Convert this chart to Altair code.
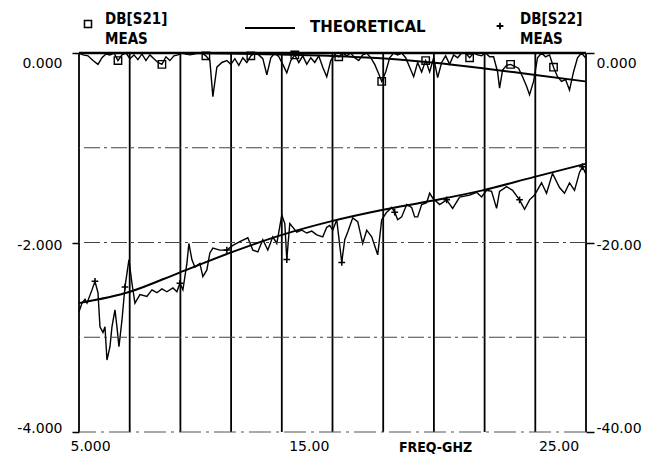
import altair as alt
import pandas as pd

# ---------------- data ----------------
s21_freq = [5.00,5.16,5.36,5.56,5.76,5.92,6.08,6.24,6.40,6.56,
            6.72,6.88,7.04,7.20,7.36,7.52,7.68,7.84,8.00,8.16,
            8.32,8.48,8.64,8.80,8.96,9.12,9.28,9.44,9.60,9.76,
            9.92,10.08,10.24,10.36,10.52,10.72,10.92,11.08,11.24,11.40,
            11.56,11.72,11.88,12.04,12.20,12.36,12.52,12.68,12.84,13.00,
            13.16,13.32,13.48,13.64,13.80,13.96,14.12,14.28,14.44,14.60,
            14.76,14.92,15.08,15.24,15.40,15.56,15.72,15.88,16.04,16.20,
            16.36,16.52,16.68,16.84,17.00,17.12,17.28,17.44,17.60,17.76,
            17.92,18.08,18.24,18.40,18.56,18.72,18.88,19.04,19.20,19.36,
            19.52,19.68,19.84,20.00,20.16,20.32,20.48,20.64,20.80,20.96,
            21.12,21.28,21.44,21.60,21.76,21.84,21.96,22.12,22.28,22.44,
            22.60,22.76,22.92,23.04,23.20,23.36,23.52,23.68,23.84,24.00,
            24.16,24.32,24.48,24.64,24.80,24.96,25.12,25.28]
s21_meas = [0.0,-0.02,-0.03,-0.08,-0.12,-0.05,-0.01,-0.02,0.0,-0.08,
            -0.02,0.0,-0.06,-0.02,-0.07,-0.01,-0.08,-0.02,-0.06,-0.10,
            -0.12,-0.04,-0.08,-0.03,-0.02,0.0,-0.01,-0.02,-0.01,0.0,
            0.0,-0.03,-0.08,-0.46,-0.15,-0.10,-0.08,-0.12,-0.06,-0.13,
            -0.05,-0.10,-0.03,0.0,-0.02,-0.06,-0.23,-0.05,0.0,-0.04,
            -0.12,-0.21,-0.08,-0.02,-0.10,-0.03,-0.12,-0.05,-0.10,-0.03,
            -0.15,-0.25,-0.08,-0.02,-0.04,0.0,-0.03,0.0,-0.05,-0.08,
            -0.02,0.0,-0.05,-0.12,-0.22,-0.30,-0.20,-0.05,0.0,-0.02,
            0.0,-0.05,-0.15,-0.25,-0.10,-0.20,-0.08,-0.20,-0.05,-0.26,
            -0.10,-0.03,-0.12,-0.02,-0.05,0.0,0.0,-0.05,0.0,-0.02,
            -0.03,0.0,-0.04,-0.04,-0.20,-0.37,-0.18,-0.13,-0.12,-0.14,
            -0.16,-0.25,-0.35,-0.44,-0.30,-0.05,0.0,-0.04,-0.02,-0.15,
            -0.25,-0.30,-0.28,-0.39,-0.20,-0.05,0.0,-0.05]

s21_theo_freq = [5.0, 9.0, 11.0, 13.0, 15.0, 17.08, 19.12, 21.16, 23.2, 25.28]
s21_theo = [0.0, 0.0, -0.005, -0.015, -0.03, -0.055, -0.10, -0.16, -0.23, -0.30]

s22_freq = [5.00,5.12,5.24,5.32,5.52,5.64,5.76,5.84,5.96,6.04,
            6.12,6.24,6.32,6.44,6.52,6.60,6.72,6.84,7.00,7.12,
            7.24,7.44,7.72,7.92,8.12,8.32,8.52,8.76,8.92,9.04,
            9.16,9.32,9.40,9.52,9.64,9.84,9.96,10.12,10.24,10.36,
            10.64,10.92,11.16,11.44,11.76,11.96,12.16,12.36,12.56,12.76,
            12.92,13.12,13.24,13.32,13.44,13.72,13.92,14.12,14.32,14.52,
            14.76,14.92,15.04,15.16,15.32,15.52,15.64,15.76,15.96,16.16,
            16.36,16.52,16.72,16.96,17.12,17.32,17.52,17.64,17.76,17.92,
            18.12,18.32,18.44,18.56,18.72,18.92,19.04,19.16,19.44,19.72,
            19.96,20.24,20.64,20.92,21.12,21.32,21.52,21.72,21.84,22.12,
            22.36,22.64,22.84,23.04,23.24,23.52,23.72,23.96,24.24,24.44,
            24.64,24.84,25.04,25.16,25.28]
s22_meas = [-27.3,-26.4,-26.0,-26.4,-25.0,-24.1,-25.3,-28.9,-29.5,-28.9,
            -32.4,-31.0,-28.9,-27.1,-28.9,-31.0,-28.2,-24.7,-21.8,-24.3,
            -26.4,-25.5,-25.7,-25.0,-25.3,-24.9,-25.2,-24.8,-25.2,-24.3,
            -25.0,-22.2,-20.1,-21.8,-22.6,-22.2,-23.6,-22.9,-21.1,-20.6,
            -20.8,-20.8,-20.3,-19.9,-19.5,-20.8,-21.0,-19.7,-20.8,-19.4,
            -20.1,-17.1,-18.0,-21.8,-18.0,-18.9,-18.7,-19.0,-18.8,-19.2,
            -19.4,-18.4,-18.2,-18.7,-17.6,-22.1,-19.7,-18.9,-17.4,-17.8,
            -20.1,-18.7,-19.4,-21.3,-17.6,-16.8,-16.3,-16.8,-17.6,-17.3,
            -16.0,-16.3,-17.3,-17.3,-16.0,-15.8,-14.8,-15.3,-16.0,-15.5,
            -16.4,-15.2,-15.0,-14.7,-15.2,-14.5,-14.6,-16.4,-14.6,-14.1,
            -14.5,-15.5,-16.5,-15.5,-15.0,-13.7,-14.8,-12.7,-14.2,-14.8,
            -13.7,-14.5,-12.6,-12.0,-12.7]

s22_theo_freq = [5.0, 7.04, 9.0, 11.04, 13.0, 15.04, 17.08, 19.12, 21.16, 23.2, 25.28]
s22_theo = [-26.4, -25.2, -23.2, -21.1, -19.3, -17.8, -16.6, -15.6, -14.5, -13.1, -11.7]

x_ticks = [5, 15, 25]            # labelled "5.000", "15.00", "25.00" (4 significant digits)
left_ticks = [0, -2, -4]
left_labels = ["0.000", "-2.000", "-4.000"]
right_ticks = [0, -20, -40]
right_labels = ["0.000", "-20.00", "-40.00"]
left_hgrid = [-1, -2, -3]

X_DOMAIN = [5, 25.3]
n = min(len(s21_freq), len(s21_meas))
m = min(len(s22_freq), len(s22_meas))
df21 = pd.DataFrame({"f": s21_freq[:n], "v": s21_meas[:n]})
df21t = pd.DataFrame({"f": s21_theo_freq, "v": s21_theo})
df22 = pd.DataFrame({"f": s22_freq[:m], "v": s22_meas[:m]})
df22t = pd.DataFrame({"f": s22_theo_freq, "v": s22_theo})
vgrid = pd.DataFrame({"f": [X_DOMAIN[0] + i * (X_DOMAIN[1] - X_DOMAIN[0]) / 10 for i in range(11)]})
hgrid = pd.DataFrame({"v": left_hgrid})
one = pd.DataFrame({"a": [0]})

def expr_map(ticks, labels):
    e = "''"
    for t, l in reversed(list(zip(ticks, labels))):
        e = f"datum.value == {t} ? '{l}' : ({e})"
    return e

FONT = "DejaVu Sans"
COND = "DejaVu Sans Condensed, Liberation Sans Narrow, DejaVu Sans"

xs = alt.Scale(domain=X_DOMAIN, nice=False, zero=False)
x_axis = alt.Axis(values=x_ticks, format=".4r", title="FREQ-GHZ",
                  titleX=356, titleY=15, titleBaseline="middle",
                  titleFont=COND, titleFontSize=14, titleFontWeight="bold",
                  titleColor="black", labelFont=FONT, labelFontSize=14, labelColor="black",
                  labelFlush=True, labelOffset=-20, labelFlushOffset=-11,
                  ticks=False, domain=False, grid=False, labelPadding=7)
# every layer gets the same x axis definition so the shared axis is kept
X = alt.X("f:Q", scale=xs, axis=x_axis)

DOM_L = [-4, 0]
DOM_R = [-40, 0]
left_axis = alt.Axis(values=left_ticks, labelExpr=expr_map(left_ticks, left_labels), title=None,
                     orient="left", labelFont=FONT, labelFontSize=14, labelColor="black",
                     tickSize=7, tickColor="black", tickWidth=1.5, labelPadding=10,
                     labelFlush=True, labelOffset=3,
                     domain=False, grid=False)
right_axis = alt.Axis(values=right_ticks, labelExpr=expr_map(right_ticks, right_labels), title=None,
                      orient="right", labelFont=FONT, labelFontSize=14, labelColor="black",
                      tickSize=8, tickColor="black", tickWidth=1.5, labelPadding=2,
                      labelFlush=True, labelOffset=3,
                      domain=False, grid=False)

def YL(axis=None):
    return alt.Y("v:Q", scale=alt.Scale(domain=DOM_L, nice=False, zero=False), axis=axis)

def YR(axis=None):
    return alt.Y("v:Q", scale=alt.Scale(domain=DOM_R, nice=False, zero=False), axis=axis)

# S21 (left scale)
m21 = alt.Chart(df21).mark_line(color="black", strokeWidth=1.4).encode(x=X, y=YL(left_axis))
t21 = alt.Chart(df21t).mark_line(color="black", strokeWidth=2, interpolate="monotone").encode(x=X, y=YL())
sq21 = alt.Chart(df21).transform_window(idx="row_number()").transform_filter(
    "datum.idx % 11 == 10").mark_point(shape="square", filled=False, color="black",
                                       size=55, strokeWidth=1.4, opacity=1).encode(x=X, y=YL())
# S22 (right scale)
m22 = alt.Chart(df22).mark_line(color="black", strokeWidth=1.4).encode(x=X, y=YR(right_axis))
t22 = alt.Chart(df22t).mark_line(color="black", strokeWidth=2, interpolate="monotone").encode(x=X, y=YR())
p22 = alt.Chart(df22).transform_window(idx="row_number()").transform_filter(
    "datum.idx % 12 == 6").mark_point(shape="M-1,0H1M0,-1V1", filled=False, color="black",
                                      size=45, strokeWidth=1.5, opacity=1).encode(x=X, y=YR())

# grid / frame
vrules = alt.Chart(vgrid).mark_rule(color="black", strokeWidth=1.8).encode(x=X)
hrules = alt.Chart(hgrid).mark_rule(color="#444", strokeWidth=1.2, strokeDash=[16, 4, 3, 4]).encode(y=YL())
bottom = alt.Chart(pd.DataFrame({"v": [-4]})).mark_rule(color="#555", strokeWidth=1.2,
                                                       strokeDash=[22, 5, 3, 5]).encode(y=YL())
top = alt.Chart(pd.DataFrame({"v": [0]})).mark_rule(color="black", strokeWidth=2.5).encode(y=YL())

# legend
def txt(s, x, y, font=COND, size=15, weight="bold", align="left"):
    return alt.Chart(one).mark_text(text=s, font=font, fontSize=size, fontWeight=weight,
                                    align=align, baseline="middle", color="black").encode(
        x=alt.value(x), y=alt.value(y))

leg_sq = alt.Chart(one).mark_point(shape="square", filled=False, color="black", size=50,
                                   strokeWidth=1.5, opacity=1).encode(x=alt.value(9), y=alt.value(-29))
leg_line = alt.Chart(one).mark_rule(color="black", strokeWidth=2).encode(
    x=alt.value(166), x2=alt.value(216), y=alt.value(-25))
leg_plus = alt.Chart(one).mark_point(shape="M-1,0H1M0,-1V1", filled=False, color="black", size=45,
                                     strokeWidth=1.8, opacity=1).encode(x=alt.value(421), y=alt.value(-27))

chart = alt.layer(
    m21, m22, vrules, hrules, bottom, top, t21, sq21, t22, p22,
    leg_sq, txt("DB[S21]", 26, -34), txt("MEAS", 26, -14),
    leg_line, txt("THEORETICAL", 231, -26, font=FONT, size=15),
    leg_plus, txt("DB[S22]", 441, -34), txt("MEAS", 441, -14)
).resolve_scale(y="independent").properties(
    width=507, height=379, autosize=alt.AutoSizeParams(type="none"),
    padding={"left": 71, "top": 45, "right": 57, "bottom": 26},
    background="white"
).configure_view(stroke=None)

chart.save("out.html", embed_options={"renderer": "svg", "actions": False})
